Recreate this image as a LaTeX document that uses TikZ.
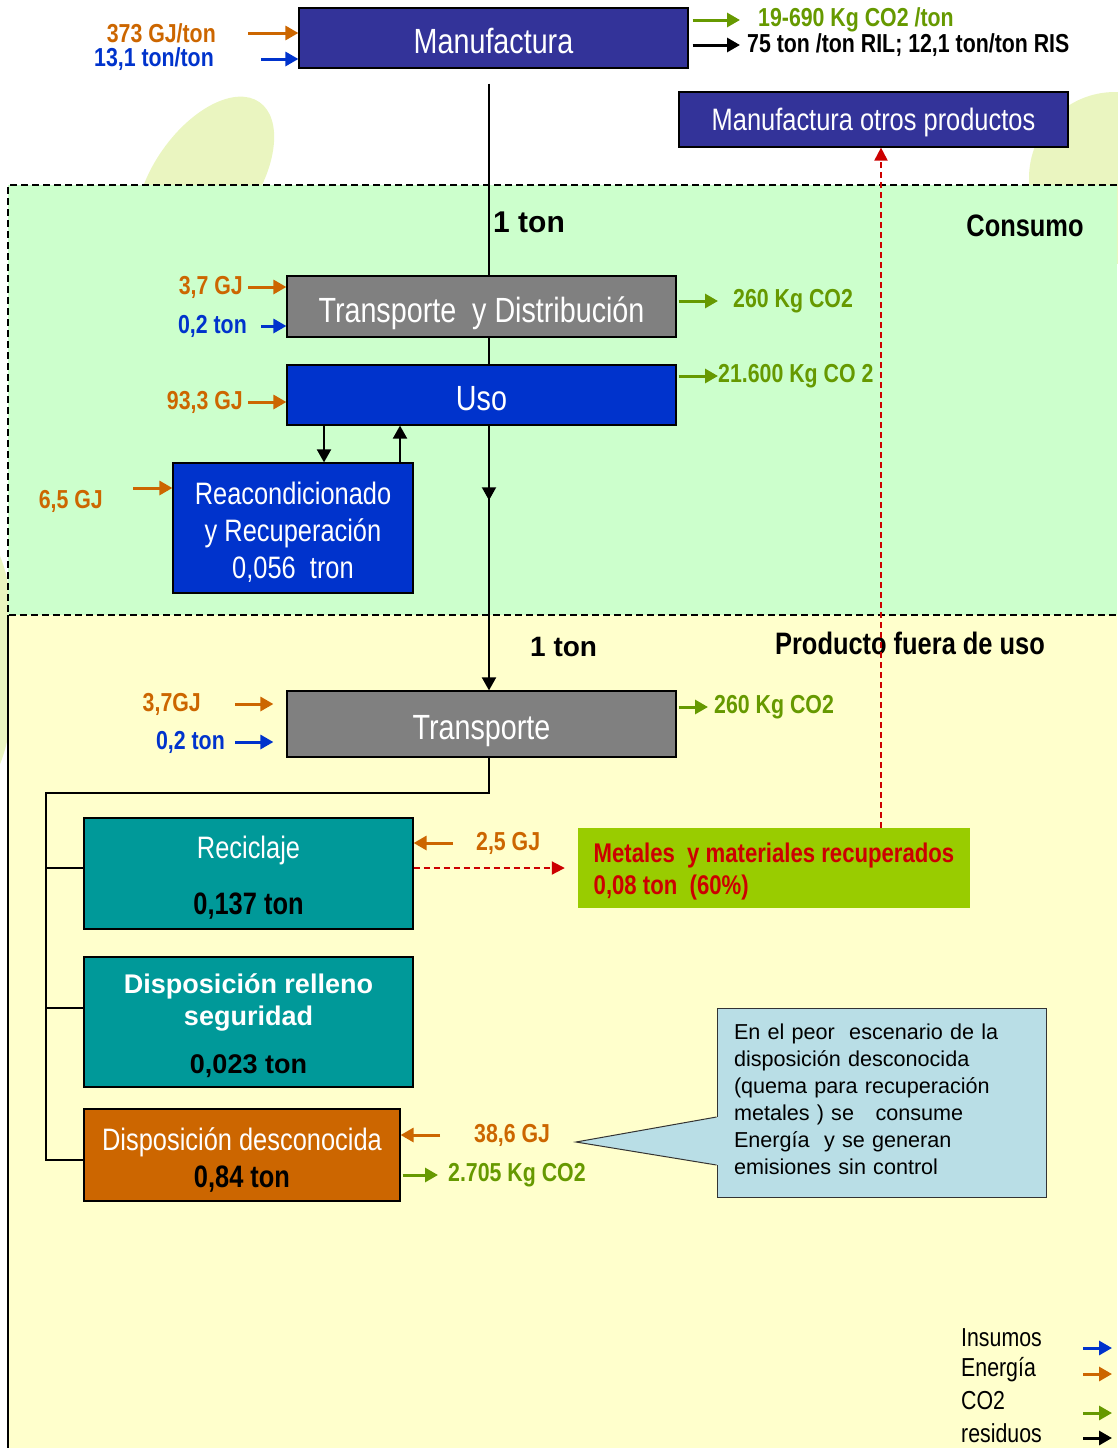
\documentclass[tikz,border=0pt]{standalone}
\usepackage{fontspec}
\setmainfont{Liberation Sans}
\newfontfamily\angosta{Liberation Sans}[FakeStretch=0.82]
\usepackage{xcolor}
\usetikzlibrary{arrows.meta,positioning,decorations.markings,calc}

\definecolor{azulmanuf}{HTML}{333399}
\definecolor{azuluso}{HTML}{0033CC}
\definecolor{grisbox}{HTML}{808080}
\definecolor{tealbox}{HTML}{009999}
\definecolor{naranja}{HTML}{CC6600}
\definecolor{verdeco}{HTML}{669900}
\definecolor{rojo}{HTML}{CC0000}
\definecolor{lima}{HTML}{99CC00}
\definecolor{fondoverde}{HTML}{CCFFCC}
\definecolor{fondoamarillo}{HTML}{FFFFCC}
\definecolor{celeste}{HTML}{B9DEE6}
\definecolor{hoja}{HTML}{EAF5C0}

\begin{document}
\begin{tikzpicture}[x=1pt, y=-1pt]
  % Estilos
  \tikzstyle{proceso} = [rectangle, draw=black, line width=1.2pt, text=white, align=center, inner sep=0pt, font=\angosta\fontsize{35}{40}\selectfont]
  \tikzstyle{unalinea} = [text height=31pt, text depth=0pt]
  \tikzstyle{etapa} = [proceso, font=\angosta\fontsize{31}{37}\selectfont]
  \tikzstyle{dato} = [inner sep=0pt, font=\angosta\bfseries\fontsize{26}{30}\selectfont]
  \tikzstyle{titulo} = [inner sep=0pt, font=\angosta\bfseries\fontsize{31}{36}\selectfont]
  \tikzstyle{leyenda} = [inner sep=0pt, anchor=west, font=\angosta\fontsize{26}{30}\selectfont]
  \tikzstyle{energia} = [line width=3pt, draw=naranja, -{Triangle[length=13pt,width=14pt]}]
  \tikzstyle{insumo} = [line width=3pt, draw=azuluso, -{Triangle[length=13pt,width=14pt]}]
  \tikzstyle{emision} = [line width=3pt, draw=verdeco, -{Triangle[length=13pt,width=14pt]}]
  \tikzstyle{residuo} = [line width=3pt, draw=black, -{Triangle[length=13pt,width=14pt]}]
  \tikzstyle{flujo} = [line width=2pt, -{Triangle[length=13pt,width=14pt]}]
  \tikzstyle{linea} = [line width=1.6pt]
  \tikzstyle{reciclado} = [line width=2pt, draw=rojo, dash pattern=on 6pt off 4pt, -{Triangle[length=13pt,width=13pt]}]
  \tikzstyle{limite} = [line width=2pt, dash pattern=on 7pt off 4pt]

  % Fondo
  \useasboundingbox (0,0) rectangle (1117,1448);
  \fill[hoja] (205,180) ellipse [x radius=52, y radius=95, rotate=-35];
  \fill[hoja] (1115,178) circle [radius=86];
  \fill[hoja] (-15,660) ellipse [x radius=30, y radius=120];
  \fill[fondoverde] (8,185) rectangle (1117,615);
  \fill[fondoamarillo] (8,615) rectangle (1117,1448);
  \draw[limite] (1117,185) -- (8,185) -- (8,615) -- (1117,615);
  \draw[line width=1.4pt] (8,615) -- (8,1448);
  \coordinate (eje) at (489,0);

  % Cajas de proceso
  \node[proceso, unalinea, fill=azulmanuf, minimum width=389pt, minimum height=60pt] (manuf) at (493.5,38) {Manufactura};
  \node[etapa, fill=azulmanuf, minimum width=389pt, minimum height=55pt, text height=22pt, text depth=0pt] (otros) at (873.5,119.5) {Manufactura otros productos};
  \node[proceso, unalinea, fill=grisbox, minimum width=389pt, minimum height=61pt] (transdist) at (481.5,306.5) {Transporte~ y Distribución};
  \node[proceso, unalinea, fill=azuluso, minimum width=389pt, minimum height=60pt] (uso) at (481.5,395) {Uso};
  \node[etapa, fill=azuluso, minimum width=240pt, minimum height=130pt] (reac) at (293,528) {\rule{0pt}{30pt}Reacondicionado\\y Recuperación\\0,056~ tron};
  \node[proceso, unalinea, fill=grisbox, minimum width=389pt, minimum height=66pt] (transp) at (481.5,724) {Transporte};
  \node[etapa, fill=tealbox, minimum width=329pt, minimum height=111pt] (recic) at (248.5,873.5) {\rule{0pt}{31pt}Reciclaje\\[19pt]{\bfseries\color{black}0,137 ton}};
  \node[etapa, fill=tealbox, minimum width=329pt, minimum height=130pt, font=\bfseries\fontsize{27}{32}\selectfont] (relleno) at (248.5,1022) {\rule{0pt}{28pt}Disposición relleno\\seguridad\\[16pt]{\color{black}0,023 ton}};
  \node[etapa, fill=naranja, minimum width=316pt, minimum height=92pt] (desconoc) at (242,1155) {\rule{0pt}{32pt}Disposición desconocida\\{\bfseries\color{black}0,84 ton}};
  \node[rectangle, fill=lima, minimum width=392pt, minimum height=80pt, align=left, text=rojo, font=\angosta\bfseries\fontsize{27}{32}\selectfont] (metales) at (774,868) {\rule{0pt}{26pt}Metales~ y materiales recuperados\\0,08 ton~ (60\%)};

  % Titulos de etapa
  \node[titulo, anchor=west, font=\bfseries\fontsize{30}{36}\selectfont] (ton1) at (493,222) {1 ton};
  \node[titulo] (consumo) at (1025,226) {Consumo};
  \node[titulo] (fuera) at (910,643) {Producto fuera de uso};
  \node[titulo, anchor=west, font=\bfseries\fontsize{28}{34}\selectfont] (ton2) at (530,647) {1 ton};

  % Flujo principal
  \draw[linea, shorten <=15pt] (eje |- manuf.south) -- (eje |- transdist.north);
  \draw[linea] (eje |- transdist.south) -- (eje |- uso.north);
  \draw[flujo, postaction={decorate}, decoration={markings, mark=at position 0.282 with {\arrow{Triangle[length=13pt,width=14pt]}}}] (eje |- uso.south) -- (eje |- transp.north);
  \draw[flujo] ([xshift=-157.5pt]uso.south) -- ([xshift=-157.5pt]uso.south |- reac.north);
  \draw[flujo] ([xshift=107pt]reac.north) -- ([xshift=107pt]reac.north |- uso.south);

  % Manufactura
  \node[dato, anchor=east, text=naranja] (eManuf) at (216,33) {373 GJ/ton};
  \node[dato, anchor=east, text=azuluso] (iManuf) at (214,59) {13,1 ton/ton};
  \node[dato, anchor=west, text=verdeco] (cManuf) at (758,20) {19-690 Kg CO2 /ton};
  \node[dato, anchor=west] (rManuf) at (747,45) {75 ton /ton RIL; 12,1 ton/ton RIS};
  \draw[energia, shorten <=32pt] (eManuf.east) -- (eManuf.east -| manuf.west);
  \draw[insumo, shorten <=47pt] (iManuf.east) -- (iManuf.east -| manuf.west);
  \draw[emision, shorten <=4pt, shorten >=18pt] (cManuf.west -| manuf.east) -- (cManuf.west);
  \draw[residuo, shorten <=4pt, shorten >=7pt] (rManuf.west -| manuf.east) -- (rManuf.west);

  % Transporte y distribucion, uso
  \node[dato, anchor=east, text=naranja] (eTD) at (243,287) {3,7 GJ};
  \node[dato, anchor=east, text=azuluso] (iTD) at (247,326) {0,2 ton};
  \node[dato, anchor=west, text=verdeco] (cTD) at (733,301) {260 Kg CO2};
  \draw[energia, shorten <=5pt] (eTD.east) -- (eTD.east -| transdist.west);
  \draw[insumo, shorten <=14pt] (iTD.east) -- (iTD.east -| transdist.west);
  \draw[emision, shorten <=2pt, shorten >=15pt] (cTD.west -| transdist.east) -- (cTD.west);
  \node[dato, anchor=east, text=naranja] (eUso) at (243,402) {93,3 GJ};
  \node[dato, anchor=west, text=verdeco] (cUso) at (718,376) {21.600 Kg CO 2};
  \draw[energia, shorten <=5pt] (eUso.east) -- (eUso.east -| uso.west);
  \draw[emision, shorten <=2pt] (cUso.west -| uso.east) -- (cUso.west);
  \node[dato, anchor=east, text=naranja] (eReac) at (103,501) {6,5 GJ};
  \draw[energia] ([xshift=30pt,yshift=13pt]eReac.east) -- ([yshift=13pt]eReac.east -| reac.west);

  % Transporte
  \node[dato, anchor=east, text=naranja] (eTr) at (201,704) {3,7GJ};
  \node[dato, anchor=east, text=azuluso] (iTr) at (225,742) {0,2 ton};
  \node[dato, anchor=west, text=verdeco] (cTr) at (714,707) {260 Kg CO2};
  \draw[energia, shorten <=34pt, shorten >=13pt] (eTr.east) -- (eTr.east -| transp.west);
  \draw[insumo, shorten <=10pt, shorten >=13pt] (iTr.east) -- (iTr.east -| transp.west);
  \draw[emision, shorten <=2pt, shorten >=6pt] (cTr.west -| transp.east) -- (cTr.west);

  % Destinos
  \coordinate (rama) at (46,793);
  \coordinate (bRecic) at ([yshift=5.5pt]recic.west);
  \coordinate (bRelleno) at ([yshift=14pt]relleno.west);
  \coordinate (bDescon) at ([yshift=-5pt]desconoc.west);
  \draw[linea] (eje |- transp.south) -- (eje |- rama) -- (rama) -- (rama |- bDescon) -- (bDescon);
  \draw[linea] (rama |- bRecic) -- (bRecic);
  \draw[linea] (rama |- bRelleno) -- (bRelleno);

  \node[dato, anchor=west, text=naranja] (eRecic) at (476,843) {2,5 GJ};
  \draw[energia, shorten <=23pt] (eRecic.west) -- (eRecic.west -| recic.east);
  \coordinate (bRecicE) at ([yshift=5.5pt]recic.east);
  \draw[reciclado, shorten >=13pt] (bRecicE) -- (bRecicE -| metales.west);
  \coordinate (sube) at ([xshift=107pt]metales.north);
  \draw[reciclado] (sube) -- (sube |- otros.south);

  \node[dato, anchor=west, text=naranja] (eDes) at (474,1135) {38,6 GJ};
  \node[dato, anchor=west, text=verdeco] (cDes) at (448,1175) {2.705 Kg CO2};
  \draw[energia, shorten <=34pt] (eDes.west) -- (eDes.west -| desconoc.east);
  \draw[emision, shorten <=2pt, shorten >=10pt] (cDes.west -| desconoc.east) -- (cDes.west);

  % Nota
  \coordinate (punta) at (576,1142);
  \node[rectangle, draw=black!80, line width=1pt, fill=celeste, minimum width=329pt, minimum height=189pt, text width=295pt, inner xsep=17pt, align=left, font=\fontsize{21.6}{27}\selectfont] (nota) at (881.5,1102.5) {En el peor~ escenario de la\\disposición desconocida\\(quema para recuperación\\metales ) se~~ consume\\Energía~ y se generan\\emisiones sin control\rule[-6pt]{0pt}{6pt}};
  \fill[celeste] ([xshift=2pt,yshift=-14.5pt]nota.west) -- (punta) -- ([xshift=2pt,yshift=-62.5pt]nota.west) -- cycle;
  \draw[line width=1pt, draw=black!80] ([yshift=-14.5pt]nota.west) -- (punta) -- ([yshift=-62.5pt]nota.west);

  % Leyenda
  \node[leyenda] (lInsumos) at (961,1338) {Insumos};
  \node[leyenda] (lEnergia) at (961,1370) {Energía};
  \node[leyenda] (lCO) at (961,1401) {CO2};
  \node[leyenda] (lResiduos) at (961,1433) {residuos};
  \draw[insumo] ([xshift=122pt,yshift=-10pt]lInsumos.west) -- ++(29,0);
  \draw[energia] ([xshift=122pt,yshift=-4pt]lEnergia.west) -- ++(29,0);
  \draw[emision] ([xshift=122pt,yshift=-12pt]lCO.west) -- ++(29,0);
  \draw[residuo] ([xshift=122pt,yshift=-5pt]lResiduos.west) -- ++(29,0);
\end{tikzpicture}
\end{document}
